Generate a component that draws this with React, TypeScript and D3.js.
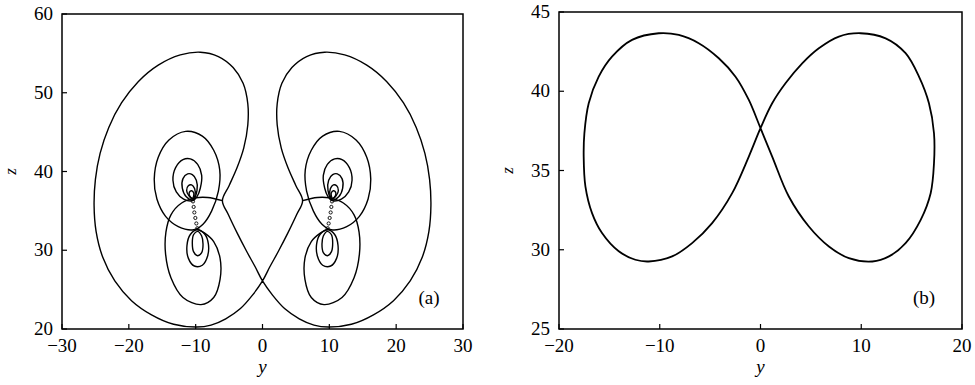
import React from "react";
import * as d3 from "d3";

type P = [number, number];

// ---------- tick values ----------
const aYTicks = [-30, -20, -10, 0, 10, 20, 30];
const aZTicks = [20, 30, 40, 50, 60];
const bYTicks = [-20, -10, 0, 10, 20];
const bZTicks = [25, 30, 35, 40, 45];

// ---------- panel (a) data: (y, z) ----------
const outerEight: P[] = [
  [0, 26.1], [-1.5, 24.3], [-3.3, 22.6], [-5.5, 21.3], [-7.7, 20.5], [-9.85, 20.25],
  [-13.3, 20.6], [-16.6, 21.8], [-19.6, 23.6], [-22.1, 26.1], [-23.9, 29.1], [-24.9, 32.4],
  [-25.2, 35.7], [-25.0, 39.0], [-24.3, 42.3], [-23.0, 45.6], [-21.1, 48.7], [-18.6, 51.4],
  [-15.6, 53.5], [-12.3, 54.8], [-9.3, 55.15], [-6.6, 54.6], [-4.4, 53.2], [-2.9, 51.2],
  [-2.2, 48.6], [-2.2, 45.9], [-2.8, 43.0], [-3.8, 40.5], [-5.0, 38.2], [-6.0, 36.3],
  [-5.1, 34.5], [-3.8, 32.2], [-2.4, 29.9], [-1.1, 27.9],
  [0, 26.1], [1.5, 24.3], [3.3, 22.6], [5.5, 21.3], [7.7, 20.5], [9.85, 20.25],
  [13.3, 20.6], [16.6, 21.8], [19.6, 23.6], [22.1, 26.1], [23.9, 29.1], [24.9, 32.4],
  [25.2, 35.7], [25.0, 39.0], [24.3, 42.3], [23.0, 45.6], [21.1, 48.7], [18.6, 51.4],
  [15.6, 53.5], [12.3, 54.8], [9.3, 55.15], [6.6, 54.6], [4.4, 53.2], [2.9, 51.2],
  [2.2, 48.6], [2.2, 45.9], [2.8, 43.0], [3.8, 40.5], [5.0, 38.2], [6.0, 36.3],
  [5.1, 34.5], [3.8, 32.2], [2.4, 29.9], [1.1, 27.9],
];

const middleLeft: P[] = [
  [-6.0, 36.3], [-8.2, 36.7], [-10.0, 36.65], [-12.1, 36.0], [-13.7, 34.5], [-14.45, 32.3],
  [-14.5, 29.5], [-13.7, 26.5], [-11.9, 24.0], [-9.2, 23.1], [-7.3, 24.0], [-6.35, 26.3],
  [-6.35, 29.0], [-7.3, 31.1], [-8.7, 32.2], [-9.6, 32.6],
];
const middleRight: P[] = [
  [6.0, 36.3], [8.2, 36.7], [10.0, 36.65], [12.1, 36.0], [13.7, 34.5], [14.45, 32.3],
  [14.5, 29.5], [13.7, 26.5], [11.9, 24.0], [9.2, 23.1], [7.3, 24.0], [6.35, 26.3],
  [6.35, 29.0], [7.3, 31.1], [8.7, 32.2], [9.6, 32.6],
];

const upper1Left: P[] = [
  [-10.3, 32.6], [-12.6, 33.0], [-14.5, 34.3], [-15.8, 36.5], [-16.2, 39], [-15.6, 41.8],
  [-14.0, 44.0], [-11.5, 45.1], [-9.0, 44.5], [-7.3, 42.7], [-6.4, 40.2], [-6.6, 37.5],
  [-7.6, 35.0], [-8.9, 33.3],
];
const upper2Left: P[] = [
  [-10.4, 36.3], [-11.8, 36.5], [-12.9, 37.4], [-13.4, 38.9], [-13.0, 40.5], [-11.9, 41.5],
  [-10.8, 41.6], [-9.7, 40.9], [-9.1, 39.5], [-9.3, 37.9], [-9.8, 36.8],
];
const upper3Left: P[] = [
  [-10.4, 36.4], [-11.4, 36.8], [-12.0, 37.9], [-11.9, 39.1], [-11.2, 39.7], [-10.5, 39.6],
  [-9.9, 38.9], [-9.8, 37.6],
];
const upper4Left: P[] = [
  [-10.4, 36.5], [-11.0, 36.9], [-11.35, 37.6], [-11.1, 38.2], [-10.6, 38.3], [-10.15, 37.8],
  [-10.1, 37.0],
];
const upper5Left: P[] = [
  [-10.45, 36.6], [-10.9, 36.9], [-10.95, 37.35], [-10.6, 37.55], [-10.3, 37.3], [-10.3, 36.9],
];
const lower1Left: P[] = [
  [-9.7, 32.4], [-10.3, 32.0], [-10.5, 31.0], [-10.3, 29.8], [-9.7, 29.3], [-9.1, 29.7],
  [-8.9, 30.8], [-9.1, 31.8],
];
const lower2Left: P[] = [
  [-9.7, 32.6], [-10.8, 32.0], [-11.3, 30.6], [-11.1, 29.0], [-10.2, 28.0], [-9.0, 28.1],
  [-8.2, 29.3], [-8.1, 30.8], [-8.6, 32.0],
];

const upper1Right: P[] = [
  [10.3, 32.6], [12.6, 33.0], [14.5, 34.3], [15.8, 36.5], [16.2, 39], [15.6, 41.8],
  [14.0, 44.0], [11.5, 45.1], [9.0, 44.5], [7.3, 42.7], [6.4, 40.2], [6.6, 37.5],
  [7.6, 35.0], [8.9, 33.3],
];
const upper2Right: P[] = [
  [10.4, 36.3], [11.8, 36.5], [12.9, 37.4], [13.4, 38.9], [13.0, 40.5], [11.9, 41.5],
  [10.8, 41.6], [9.7, 40.9], [9.1, 39.5], [9.3, 37.9], [9.8, 36.8],
];
const upper3Right: P[] = [
  [10.4, 36.4], [11.4, 36.8], [12.0, 37.9], [11.9, 39.1], [11.2, 39.7], [10.5, 39.6],
  [9.9, 38.9], [9.8, 37.6],
];
const upper4Right: P[] = [
  [10.4, 36.5], [11.0, 36.9], [11.35, 37.6], [11.1, 38.2], [10.6, 38.3], [10.15, 37.8],
  [10.1, 37.0],
];
const upper5Right: P[] = [
  [10.45, 36.6], [10.9, 36.9], [10.95, 37.35], [10.6, 37.55], [10.3, 37.3], [10.3, 36.9],
];
const lower1Right: P[] = [
  [9.7, 32.4], [10.3, 32.0], [10.5, 31.0], [10.3, 29.8], [9.7, 29.3], [9.1, 29.7],
  [8.9, 30.8], [9.1, 31.8],
];
const lower2Right: P[] = [
  [9.7, 32.6], [10.8, 32.0], [11.3, 30.6], [11.1, 29.0], [10.2, 28.0], [9.0, 28.1],
  [8.2, 29.3], [8.1, 30.8], [8.6, 32.0],
];

const chainLeft: P[] = [
  [-10.4, 36.2], [-10.3, 35.5], [-10.2, 34.8], [-10.05, 34.1], [-9.9, 33.4], [-9.75, 32.8],
];
const chainRight: P[] = [
  [10.4, 36.2], [10.3, 35.5], [10.2, 34.8], [10.05, 34.1], [9.9, 33.4], [9.75, 32.8],
];

// ---------- panel (b) data ----------
const eightB: P[] = [
  [-10.1, 43.66], [-12.75, 43.24], [-14.74, 42.18], [-16.06, 40.92], [-17.05, 39.24],
  [-17.48, 37.35], [-17.55, 35.88], [-17.38, 34.0], [-16.72, 32.31], [-15.73, 31.05],
  [-14.07, 29.9], [-12.42, 29.37], [-11.1, 29.26], [-8.77, 29.58], [-6.79, 30.42],
  [-4.8, 31.68], [-2.81, 33.57], [-1.16, 35.88], [0, 37.67], [1.16, 39.24], [2.48, 40.5],
  [4.14, 41.76], [5.79, 42.71], [7.78, 43.45], [9.93, 43.66], [12.42, 43.34], [14.4, 42.4],
  [15.73, 40.92], [16.72, 39.24], [17.22, 37.35], [17.22, 35.46], [16.89, 33.57],
  [15.9, 31.89], [14.4, 30.42], [12.75, 29.58], [11.1, 29.26], [8.77, 29.47], [6.79, 30.21],
  [4.8, 31.47], [2.81, 33.36], [1.16, 35.88], [0, 37.67], [-1.16, 39.45], [-2.48, 40.92],
  [-4.14, 42.08], [-6.13, 43.03], [-8.11, 43.55],
];

type Curve = { pts: P[]; closed: boolean };

const curvesA: Curve[] = [
  { pts: outerEight, closed: true },
  { pts: middleLeft, closed: false },
  { pts: middleRight, closed: false },
  { pts: upper1Left, closed: true },
  { pts: upper2Left, closed: true },
  { pts: upper3Left, closed: true },
  { pts: upper4Left, closed: true },
  { pts: upper5Left, closed: true },
  { pts: lower1Left, closed: true },
  { pts: lower2Left, closed: true },
  { pts: upper1Right, closed: true },
  { pts: upper2Right, closed: true },
  { pts: upper3Right, closed: true },
  { pts: upper4Right, closed: true },
  { pts: upper5Right, closed: true },
  { pts: lower1Right, closed: true },
  { pts: lower2Right, closed: true },
];
const curvesB: Curve[] = [{ pts: eightB, closed: true }];

const FONT = "'Liberation Serif', 'DejaVu Serif', serif";
const fmt = (v: number) => (v < 0 ? "\u2212" + Math.abs(v) : String(v));

function Panel(props: {
  x0: number; x1: number; y0: number; y1: number;
  yDom: [number, number]; zDom: [number, number];
  yTicks: number[]; zTicks: number[];
  curves: Curve[]; circles: P[]; label: string; labelX: number; labelY: number;
  strokeW: number;
}) {
  const { x0, x1, y0, y1 } = props;
  const sx = d3.scaleLinear().domain(props.yDom).range([x0, x1]);
  const sz = d3.scaleLinear().domain(props.zDom).range([y1, y0]);
  const open = d3.line<P>().x((d) => sx(d[0])).y((d) => sz(d[1])).curve(d3.curveCatmullRom.alpha(0.5));
  const closed = d3.line<P>().x((d) => sx(d[0])).y((d) => sz(d[1])).curve(d3.curveCatmullRomClosed.alpha(0.5));
  return (
    <g>
      {props.curves.map((c, i) => (
        <path key={i} d={(c.closed ? closed : open)(c.pts) || ""} fill="none" stroke="#000" strokeWidth={props.strokeW} strokeLinejoin="round" />
      ))}
      {props.circles.map((c, i) => (
        <circle key={"c" + i} cx={sx(c[0])} cy={sz(c[1])} r={1.6} fill="none" stroke="#000" strokeWidth={0.9} />
      ))}
      <rect x={x0} y={y0} width={x1 - x0} height={y1 - y0} fill="none" stroke="#000" strokeWidth={1.5} />
      {props.yTicks.map((t) => (
        <g key={"x" + t}>
          <line x1={sx(t)} x2={sx(t)} y1={y1} y2={y1 - 5} stroke="#000" strokeWidth={1.2} />
          <text x={sx(t)} y={y1 + 23} textAnchor="middle" fontFamily={FONT} fontSize={19}>{fmt(t)}</text>
        </g>
      ))}
      {props.zTicks.map((t) => (
        <g key={"z" + t}>
          <line x1={x0} x2={x0 + 5} y1={sz(t)} y2={sz(t)} stroke="#000" strokeWidth={1.2} />
          <text x={x0 - 9} y={sz(t) + 6} textAnchor="end" fontFamily={FONT} fontSize={19}>{fmt(t)}</text>
        </g>
      ))}
      <text x={(x0 + x1) / 2} y={y1 + 44} textAnchor="middle" fontFamily={FONT} fontStyle="italic" fontSize={19}>y</text>
      <text transform={`translate(${x0 - 46},${(y0 + y1) / 2}) rotate(-90)`} textAnchor="middle" fontFamily={FONT} fontStyle="italic" fontSize={17}>z</text>
      <text x={props.labelX} y={props.labelY} textAnchor="middle" fontFamily={FONT} fontSize={19}>{props.label}</text>
    </g>
  );
}

export default function App() {
  return (
    <svg width={975} height={385} viewBox="0 0 975 385" style={{ position: "absolute", left: 0, top: 0, background: "#fff" }}>
      <rect width={975} height={385} fill="#fff" />
      <Panel x0={62} x1={463} y0={14} y1={329} yDom={[-30, 30]} zDom={[20, 60]}
        yTicks={aYTicks} zTicks={aZTicks} curves={curvesA} circles={[...chainLeft, ...chainRight]}
        label="(a)" labelX={429} labelY={304} strokeW={1.4} />
      <Panel x0={559} x1={962} y0={12} y1={329} yDom={[-20, 20]} zDom={[25, 45]}
        yTicks={bYTicks} zTicks={bZTicks} curves={curvesB} circles={[]}
        label="(b)" labelX={924} labelY={304} strokeW={1.8} />
    </svg>
  );
}
